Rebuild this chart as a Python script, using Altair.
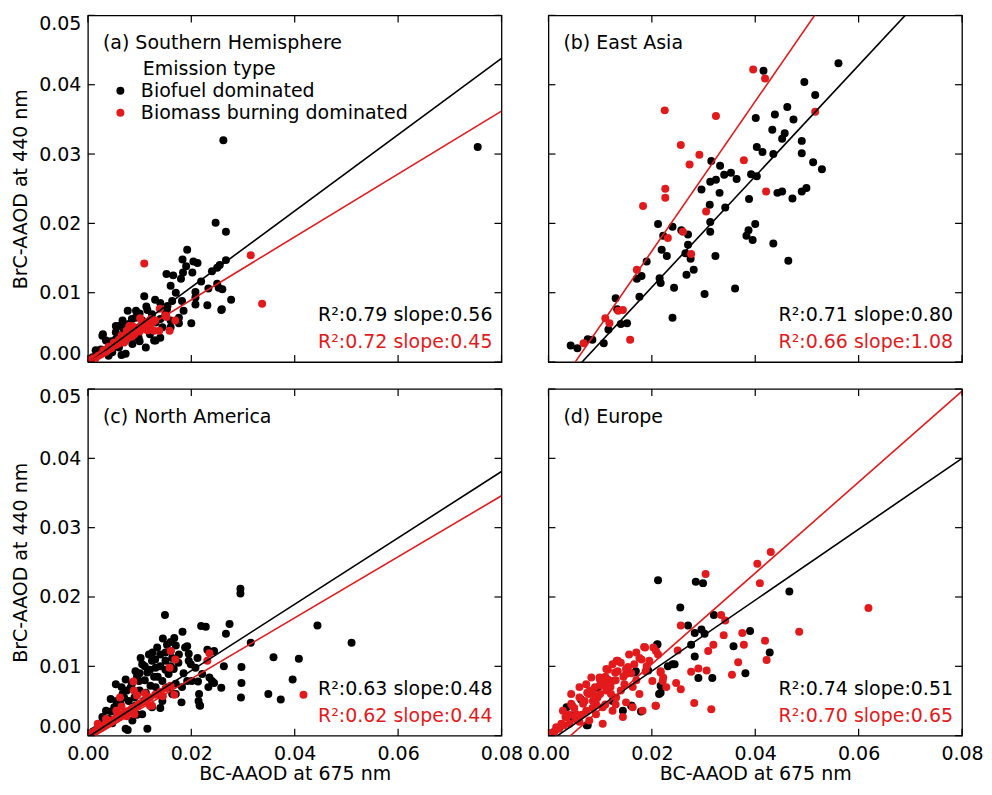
import altair as alt
import pandas as pd

FONT = "DejaVu Sans"
BLACK = "#000000"
RED = "#e31a1c"
GROUPS = ["Biofuel dominated", "Biomass burning dominated"]

# ---------------- data (BC-AAOD 675 nm, BrC-AAOD 440 nm) ----------------
a_bio = [(0.0262,0.0320),(0.0754,0.0310),(0.0247,0.0201),(0.0267,0.0188),(0.0192,0.0162),(0.0183,0.0148),
 (0.0204,0.0145),(0.0212,0.0143),(0.0190,0.0138),(0.0184,0.0129),(0.0202,0.0129),(0.0152,0.0127),
 (0.0267,0.0147),(0.0255,0.0140),(0.0250,0.0136),(0.0219,0.0116),(0.0250,0.0113),(0.0233,0.0106),
 (0.0260,0.0105),(0.0208,0.0101),(0.0277,0.0090),(0.0231,0.0082),(0.0258,0.0075),(0.0200,0.0056),
 (0.0109,0.0095),(0.0113,0.0080),(0.0154,0.0081),(0.0176,0.0056),(0.0185,0.0074),(0.0208,0.0083),
 (0.0077,0.0074),(0.0093,0.0074),(0.0054,0.0052),(0.0029,0.0040),(0.0128,0.0031),(0.0065,0.0010),
 (0.0060,0.0052),(0.0054,0.0043),(0.0028,0.0038),(0.0035,0.0031),(0.0067,0.0060),(0.0092,0.0064),
 (0.0124,0.0069),(0.0131,0.0031),(0.0112,0.0021),(0.0086,0.0026),(0.0060,0.0021),(0.0073,0.0012),
 (0.0047,0.0014),(0.0022,0.0012),(0.0015,0.0017),(0.0009,0.0007),(0.0041,0.0026),(0.0163,0.0088),
 (0.0153,0.0076),(0.0176,0.0064),(0.0240,0.0131),(0.0253,0.0107),(0.0259,0.0076),(0.0208,0.0093),
 (0.0182,0.0088),(0.0144,0.0050),(0.0118,0.0045),(0.0099,0.0050),(0.0073,0.0040),(0.0092,0.0036),
 (0.0035,0.0017),(0.0054,0.0033),(0.0079,0.0055),(0.0105,0.0060),(0.0131,0.0057),(0.0150,0.0069),
 (0.0003,0.0002),(0.0012,0.0004),(0.0018,0.0010),(0.0025,0.0018),(0.0040,0.0009),(0.0045,0.0030),
 (0.0048,0.0022),(0.0062,0.0028),(0.0070,0.0045),(0.0085,0.0048),(0.0098,0.0035),(0.0110,0.0052),
 (0.0120,0.0060),(0.0140,0.0062),(0.0160,0.0060),(0.0100,0.0070),(0.0115,0.0075),(0.0130,0.0090),
 (0.0140,0.0085),(0.0160,0.0110),(0.0170,0.0100),(0.0085,0.0062),(0.0070,0.0050),(0.0120,0.0040),
 (0.0140,0.0035),(0.0160,0.0050),(0.0100,0.0030),(0.0180,0.0120),(0.0165,0.0125)]
a_bb = [(0.0109,0.0142),(0.0315,0.0154),(0.0337,0.0084),(0.0139,0.0077),(0.0152,0.0065),(0.0169,0.0060),
 (0.0158,0.0045),(0.0138,0.0045),(0.0122,0.0062),(0.0101,0.0063),(0.0150,0.0067),(0.0128,0.0045),
 (0.0086,0.0052),(0.0067,0.0036),(0.0005,0.0003),(0.0010,0.0005),(0.0015,0.0006),(0.0020,0.0009),
 (0.0025,0.0011),(0.0030,0.0013),(0.0030,0.0017),(0.0035,0.0015),(0.0040,0.0018),(0.0040,0.0022),
 (0.0045,0.0020),(0.0050,0.0024),(0.0050,0.0028),(0.0055,0.0025),(0.0060,0.0027),(0.0060,0.0032),
 (0.0065,0.0030),(0.0070,0.0035),(0.0070,0.0028),(0.0075,0.0033),(0.0080,0.0038),(0.0080,0.0042),
 (0.0085,0.0037),(0.0090,0.0045),(0.0090,0.0040),(0.0095,0.0048),(0.0100,0.0044),(0.0100,0.0050),
 (0.0105,0.0055),(0.0110,0.0048),(0.0115,0.0058),(0.0120,0.0052),(0.0125,0.0057),(0.0130,0.0060),
 (0.0080,0.0052),(0.0075,0.0045),(0.0065,0.0038),(0.0115,0.0046)]

b_bio = [(0.0043,0.0024),(0.0056,0.0020),(0.0076,0.0033),(0.0085,0.0032),(0.0107,0.0027),(0.0116,0.0047),
 (0.0130,0.0092),(0.0133,0.0076),(0.0140,0.0055),(0.0152,0.0056),(0.0176,0.0094),(0.0171,0.0120),
 (0.0180,0.0124),(0.0190,0.0145),(0.0212,0.0199),(0.0222,0.0182),(0.0219,0.0162),(0.0215,0.0121),
 (0.0217,0.0114),(0.0229,0.0153),(0.0240,0.0195),(0.0240,0.0064),(0.0243,0.0107),(0.0257,0.0190),
 (0.0270,0.0184),(0.0270,0.0169),(0.0265,0.0157),(0.0275,0.0149),(0.0267,0.0126),(0.0281,0.0133),
 (0.0302,0.0098),(0.0296,0.0249),(0.0312,0.0227),(0.0313,0.0260),(0.0315,0.0290),(0.0313,0.0202),
 (0.0313,0.0188),(0.0323,0.0153),(0.0324,0.0263),(0.0332,0.0283),(0.0331,0.0244),(0.0340,0.0270),
 (0.0342,0.0223),(0.0353,0.0273),(0.0361,0.0106),(0.0364,0.0264),(0.0383,0.0182),(0.0387,0.0190),
 (0.0395,0.0176),(0.0400,0.0199),(0.0388,0.0235),(0.0392,0.0271),(0.0403,0.0268),(0.0401,0.0352),
 (0.0403,0.0310),(0.0414,0.0303),(0.0416,0.0420),(0.0433,0.0335),(0.0435,0.0300),(0.0438,0.0357),
 (0.0435,0.0171),(0.0443,0.0244),(0.0452,0.0246),(0.0452,0.0322),(0.0457,0.0330),(0.0462,0.0368),
 (0.0464,0.0146),(0.0472,0.0236),(0.0474,0.0350),(0.0490,0.0319),(0.0490,0.0301),(0.0490,0.0246),
 (0.0499,0.0251),(0.0495,0.0404),(0.0512,0.0288),(0.0516,0.0385),(0.0529,0.0278),(0.0561,0.0431)]
b_bb = [(0.0068,0.0027),(0.0110,0.0063),(0.0118,0.0056),(0.0135,0.0074),(0.0144,0.0075),(0.0158,0.0032),
 (0.0171,0.0133),(0.0183,0.0225),(0.0225,0.0363),(0.0226,0.0250),(0.0226,0.0237),(0.0231,0.0179),
 (0.0256,0.0313),(0.0260,0.0188),(0.0273,0.0285),(0.0276,0.0156),(0.0292,0.0299),(0.0305,0.0217),
 (0.0324,0.0355),(0.0378,0.0291),(0.0396,0.0422),(0.0419,0.0409),(0.0421,0.0246),(0.0516,0.0361)]

c_bio = [(0.0295,0.0212),(0.0295,0.0205),(0.0149,0.0174),(0.0219,0.0158),(0.0228,0.0157),(0.0274,0.0161),
 (0.0267,0.0147),(0.0444,0.0159),(0.0510,0.0134),(0.0315,0.0134),(0.0359,0.0113),(0.0408,0.0111),
 (0.0263,0.0100),(0.0297,0.0099),(0.0396,0.0081),(0.0297,0.0076),(0.0258,0.0069),(0.0349,0.0060),
 (0.0373,0.0052),(0.0296,0.0055),(0.0215,0.0060),(0.0216,0.0044),(0.0181,0.0048),(0.0244,0.0076),
 (0.0235,0.0084),(0.0213,0.0078),(0.0192,0.0079),(0.0183,0.0150),(0.0167,0.0141),(0.0160,0.0122),
 (0.0192,0.0129),(0.0231,0.0124),(0.0244,0.0122),(0.0212,0.0112),(0.0199,0.0103),(0.0115,0.0010),
 (0.0077,0.0008),(0.0153,0.0131),(0.0188,0.0127),(0.0140,0.0117),(0.0124,0.0108),(0.0105,0.0103),
 (0.0092,0.0093),(0.0073,0.0081),(0.0054,0.0074),(0.0044,0.0053),(0.0035,0.0036),(0.0051,0.0041),
 (0.0067,0.0060),(0.0083,0.0070),(0.0099,0.0079),(0.0115,0.0091),(0.0131,0.0098),(0.0150,0.0108),
 (0.0163,0.0112),(0.0176,0.0117),(0.0195,0.0108),(0.0208,0.0098),(0.0221,0.0089),(0.0201,0.0079),
 (0.0182,0.0070),(0.0163,0.0060),(0.0144,0.0050),(0.0124,0.0041),(0.0105,0.0031),(0.0086,0.0022),
 (0.0073,0.0010),(0.0214,0.0050),(0.0217,0.0043),(0.0233,0.0070),(0.0240,0.0079),(0.0121,0.0072),
 (0.0144,0.0079),(0.0156,0.0089),(0.0166,0.0096),(0.0108,0.0050),(0.0092,0.0043),(0.0060,0.0031),
 (0.0028,0.0027),(0.0022,0.0017),(0.0015,0.0008),(0.0131,0.0070),(0.0079,0.0050),(0.0063,0.0046),
 (0.0134,0.0127),(0.0118,0.0117),(0.0102,0.0112),(0.0005,0.0003),(0.0010,0.0006),(0.0040,0.0024),
 (0.0047,0.0018),(0.0095,0.0030),(0.0112,0.0062),(0.0128,0.0085),(0.0140,0.0040),(0.0170,0.0075),
 (0.0100,0.0090),(0.0110,0.0100),(0.0120,0.0095),(0.0130,0.0110),(0.0140,0.0100),(0.0150,0.0120),
 (0.0160,0.0100),(0.0170,0.0130),(0.0125,0.0120),(0.0095,0.0085),(0.0085,0.0075),(0.0075,0.0065),
 (0.0065,0.0070),(0.0110,0.0080),(0.0135,0.0085),(0.0150,0.0095),(0.0175,0.0105),(0.0185,0.0090),
 (0.0195,0.0118),(0.0160,0.0135),(0.0145,0.0140),(0.0100,0.0065),(0.0115,0.0055),(0.0135,0.0060),
 (0.0155,0.0070),(0.0170,0.0060),(0.0090,0.0055),(0.0070,0.0055),(0.0045,0.0035),(0.0055,0.0050)]
c_bb = [(0.0417,0.0059),(0.0160,0.0122),(0.0169,0.0110),(0.0158,0.0098),(0.0235,0.0119),(0.0231,0.0108),
 (0.0167,0.0059),(0.0088,0.0078),(0.0062,0.0055),(0.0019,0.0017),(0.0089,0.0065),(0.0124,0.0043),
 (0.0112,0.0050),(0.0005,0.0002),(0.0010,0.0005),(0.0015,0.0007),(0.0020,0.0010),(0.0025,0.0011),
 (0.0030,0.0014),(0.0035,0.0016),(0.0040,0.0018),(0.0045,0.0021),(0.0050,0.0023),(0.0055,0.0026),
 (0.0060,0.0027),(0.0065,0.0030),(0.0070,0.0032),(0.0075,0.0035),(0.0080,0.0036),(0.0085,0.0039),
 (0.0090,0.0041),(0.0095,0.0043),(0.0100,0.0046),(0.0105,0.0048),(0.0110,0.0050),(0.0115,0.0053),
 (0.0120,0.0055),(0.0130,0.0059),(0.0140,0.0063),(0.0150,0.0068),(0.0160,0.0072),(0.0090,0.0031),
 (0.0065,0.0042),(0.0075,0.0028),(0.0110,0.0061),(0.0120,0.0043),(0.0055,0.0036),(0.0145,0.0057),
 (0.0095,0.0058),(0.0035,0.0024),(0.0020,0.0016)]

d_bio = [(0.0212,0.0224),(0.0285,0.0222),(0.0299,0.0220),(0.0466,0.0208),(0.0255,0.0185),(0.0320,0.0174),
 (0.0270,0.0159),(0.0296,0.0153),(0.0283,0.0148),(0.0302,0.0147),(0.0390,0.0151),(0.0358,0.0129),
 (0.0428,0.0120),(0.0276,0.0131),(0.0283,0.0114),(0.0290,0.0083),(0.0317,0.0083),(0.0381,0.0090),
 (0.0210,0.0131),(0.0244,0.0103),(0.0231,0.0100),(0.0217,0.0072),(0.0217,0.0062),(0.0193,0.0094),
 (0.0167,0.0091),(0.0179,0.0035),(0.0161,0.0043),(0.0094,0.0069),(0.0063,0.0052),(0.0074,0.0015),
 (0.0046,0.0029),(0.0211,0.0132),(0.0096,0.0070),(0.0169,0.0093),(0.0240,0.0103),(0.0076,0.0015),
 (0.0003,0.0003),(0.0160,0.0043),(0.0214,0.0060),(0.0022,0.0012),(0.0047,0.0027),(0.0124,0.0050),
 (0.0144,0.0036),(0.0035,0.0041)]
d_bb = [(0.0430,0.0265),(0.0404,0.0248),(0.0409,0.0220),(0.0304,0.0233),(0.0619,0.0184),(0.0485,0.0150),
 (0.0334,0.0174),(0.0342,0.0166),(0.0256,0.0159),(0.0375,0.0148),(0.0339,0.0145),(0.0378,0.0131),
 (0.0319,0.0131),(0.0309,0.0122),(0.0419,0.0137),(0.0422,0.0109),(0.0367,0.0106),(0.0355,0.0088),
 (0.0290,0.0097),(0.0306,0.0094),(0.0276,0.0092),(0.0250,0.0123),(0.0282,0.0047),(0.0315,0.0038),
 (0.0207,0.0043),(0.0247,0.0076),(0.0256,0.0067),(0.0228,0.0070),(0.0222,0.0084),(0.0217,0.0093),
 (0.0203,0.0127),(0.0212,0.0117),(0.0187,0.0127),(0.0180,0.0110),(0.0134,0.0108),(0.0154,0.0099),
 (0.0129,0.0091),(0.0110,0.0085),(0.0078,0.0060),(0.0046,0.0043),(0.0033,0.0027),
 (0.0185,0.0128),(0.0208,0.0122),(0.0176,0.0112),(0.0166,0.0103),(0.0132,0.0108),(0.0150,0.0096),
 (0.0188,0.0093),(0.0217,0.0091),(0.0112,0.0096),(0.0099,0.0084),(0.0124,0.0079),(0.0147,0.0074),
 (0.0163,0.0070),(0.0176,0.0060),(0.0208,0.0043),(0.0073,0.0074),(0.0044,0.0046),(0.0060,0.0055),
 (0.0086,0.0060),(0.0112,0.0065),(0.0131,0.0055),(0.0150,0.0048),(0.0163,0.0041),(0.0182,0.0036),
 (0.0144,0.0027),(0.0124,0.0036),(0.0105,0.0041),(0.0092,0.0031),(0.0073,0.0036),(0.0054,0.0031),
 (0.0035,0.0027),(0.0025,0.0017),(0.0015,0.0012),(0.0009,0.0005),(0.0079,0.0022),(0.0105,0.0017),
 (0.0060,0.0020),(0.0041,0.0017),(0.0067,0.0046),(0.0086,0.0050),(0.0102,0.0072),(0.0115,0.0081),
 (0.0083,0.0084),(0.0060,0.0070),(0.0044,0.0060),(0.0124,0.0103),(0.0156,0.0117),(0.0195,0.0108),
 (0.0201,0.0079),(0.0221,0.0079),(0.0150,0.0089),(0.0134,0.0093),(0.0121,0.0060),(0.0092,0.0046),
 (0.0028,0.0036),(0.0004,0.0002),(0.0012,0.0006),(0.0020,0.0010),(0.0030,0.0015),(0.0052,0.0024),
 (0.0070,0.0050),(0.0080,0.0065),(0.0090,0.0070),(0.0100,0.0060),(0.0110,0.0075),(0.0120,0.0070),
 (0.0130,0.0080),(0.0140,0.0065),(0.0095,0.0055),(0.0085,0.0040),(0.0110,0.0045),(0.0130,0.0045),
 (0.0145,0.0085),(0.0160,0.0090),(0.0170,0.0080),(0.0065,0.0030),(0.0050,0.0040),(0.0040,0.0030),
 (0.0115,0.0095),(0.0100,0.0080),(0.0075,0.0062),(0.0140,0.0105),(0.0170,0.0120),(0.0190,0.0100)]

panel_points = [(a_bio, a_bb), (b_bio, b_bb), (c_bio, c_bb), (d_bio, d_bb)]
panel_titles = ["(a) Southern Hemisphere", "(b) East Asia", "(c) North America", "(d) Europe"]
r2_bio = [0.79, 0.71, 0.63, 0.74]
slope_bio = [0.56, 0.80, 0.48, 0.51]
r2_bb = [0.72, 0.66, 0.62, 0.70]
slope_bb = [0.45, 1.08, 0.44, 0.65]
# regression lines: BrC-AAOD read at BC-AAOD = 0 and 0.08
line_x = [0.0, 0.08]
line_bio_y = [(-0.0002, 0.0438), (-0.0052, 0.0588), (-0.0002, 0.0381), (-0.0009, 0.0400)]
line_bb_y = [(-0.0001, 0.0362), (-0.0056, 0.0808), (-0.0006, 0.0346), (-0.0028, 0.0497)]

x_ticks = [0.0, 0.02, 0.04, 0.06, 0.08]
y_ticks = [0.0, 0.01, 0.02, 0.03, 0.04, 0.05]

W, H = 414, 347
TICK = 7
FS = 19
PT = 64


def make_panel(i, show_x, show_y, show_legend):
    bio, bb = panel_points[i]
    rows = [{"x": p[0], "y": p[1], "group": GROUPS[0]} for p in bio] + \
           [{"x": p[0], "y": p[1], "group": GROUPS[1]} for p in bb]
    pts = pd.DataFrame(rows)
    lines = pd.DataFrame(
        [{"x": line_x[k], "y": line_bio_y[i][k], "group": GROUPS[0]} for k in range(2)] +
        [{"x": line_x[k], "y": line_bb_y[i][k], "group": GROUPS[1]} for k in range(2)])
    xt = pd.DataFrame({"x": x_ticks})
    yt = pd.DataFrame({"y": y_ticks})

    xaxis_kw = dict(values=x_ticks, format=".2f", labels=show_x, ticks=False, domain=False,
                    grid=False, labelFlush=False, labelOverlap=False,
                    labelPadding=9, labelFontSize=FS, labelFont=FONT, labelColor="black",
                    titleFontSize=FS, titleFont=FONT, titleColor="black", titleFontWeight="normal",
                    titlePadding=1)
    yaxis_kw = dict(values=y_ticks, format=".2f", labels=show_y, ticks=False, domain=False,
                    grid=False, labelFlush=True, labelFlushOffset=1, labelOverlap=False,
                    labelPadding=7, labelFontSize=FS, labelFont=FONT, labelColor="black",
                    titleFontSize=FS, titleFont=FONT, titleColor="black", titleFontWeight="normal",
                    titlePadding=8)
    xaxis = alt.Axis(title="BC-AAOD at 675 nm", **xaxis_kw) if show_x else alt.Axis(title=None, **xaxis_kw)
    yaxis = alt.Axis(title="BrC-AAOD at 440 nm", **yaxis_kw) if show_y else alt.Axis(title=None, **yaxis_kw)

    xs = alt.Scale(domain=[0, 0.08], nice=False, zero=False)
    ys = alt.Scale(domain=[0, 0.05], nice=False, zero=False)
    cs = alt.Scale(domain=GROUPS, range=[BLACK, RED])
    if show_legend:
        leg = alt.Legend(title=None, orient="none", legendX=23, legendY=66, labelFontSize=FS,
                         labelFont=FONT, labelColor="black", labelLimit=500, symbolType="circle",
                         symbolSize=PT, symbolStrokeWidth=0, labelOffset=11, rowPadding=2, padding=0)
        color = alt.Color("group:N", scale=cs, legend=leg)
    else:
        color = alt.Color("group:N", scale=cs, legend=None)

    X = alt.X("x:Q", scale=xs, axis=xaxis)
    Y = alt.Y("y:Q", scale=ys, axis=yaxis)

    points = alt.Chart(pts).mark_circle(size=PT, opacity=1, clip=True).encode(x=X, y=Y, color=color)
    reg = alt.Chart(lines).mark_line(clip=True, strokeWidth=1.6).encode(
        x=X, y=Y, color=alt.Color("group:N", scale=cs, legend=None), detail="group:N")

    tick_style = dict(color="black", strokeWidth=1.2)
    xt_bot = alt.Chart(xt).mark_rule(**tick_style).encode(x=X, y=alt.value(H), y2=alt.value(H - TICK))
    xt_top = alt.Chart(xt).mark_rule(**tick_style).encode(x=X, y=alt.value(0), y2=alt.value(TICK))
    yt_left = alt.Chart(yt).mark_rule(**tick_style).encode(y=Y, x=alt.value(0), x2=alt.value(TICK))
    yt_right = alt.Chart(yt).mark_rule(**tick_style).encode(y=Y, x=alt.value(W), x2=alt.value(W - TICK))

    title = alt.Chart(pd.DataFrame({"t": [panel_titles[i]]})).mark_text(
        align="left", baseline="middle", fontSize=FS, font=FONT, color="black"
    ).encode(x=alt.value(15), y=alt.value(28), text="t:N")
    stat1 = alt.Chart(pd.DataFrame({"t": ["R²:%.2f slope:%.2f" % (r2_bio[i], slope_bio[i])]})).mark_text(
        align="right", baseline="middle", fontSize=FS, font=FONT, color=BLACK
    ).encode(x=alt.value(W - 9), y=alt.value(H - 47), text="t:N")
    stat2 = alt.Chart(pd.DataFrame({"t": ["R²:%.2f slope:%.2f" % (r2_bb[i], slope_bb[i])]})).mark_text(
        align="right", baseline="middle", fontSize=FS, font=FONT, color=RED
    ).encode(x=alt.value(W - 9), y=alt.value(H - 20), text="t:N")
    layers = [points, reg, xt_bot, xt_top, yt_left, yt_right, title, stat1, stat2]
    if show_legend:
        leg_title = alt.Chart(pd.DataFrame({"t": ["Emission type"]})).mark_text(
            align="left", baseline="middle", fontSize=FS, font=FONT, color="black"
        ).encode(x=alt.value(55), y=alt.value(54), text="t:N")
        layers.append(leg_title)
    return alt.layer(*layers).properties(width=W, height=H)


pa = make_panel(0, False, True, True)
pb = make_panel(1, False, False, False)
pc = make_panel(2, True, True, False)
pd_ = make_panel(3, True, False, False)

chart = alt.concat(pa, pb, pc, pd_, columns=2, spacing={"row": 27, "column": 47}, bounds="flush").resolve_legend(
    color="independent").resolve_scale(color="independent").properties(
    padding={"left": 3, "top": 5, "right": 0, "bottom": 0}, background="white"
).configure(font=FONT).configure_view(stroke="black", strokeWidth=1.3).configure_axis(grid=False)

chart.save("out.html", embed_options={"renderer": "svg", "actions": False})
